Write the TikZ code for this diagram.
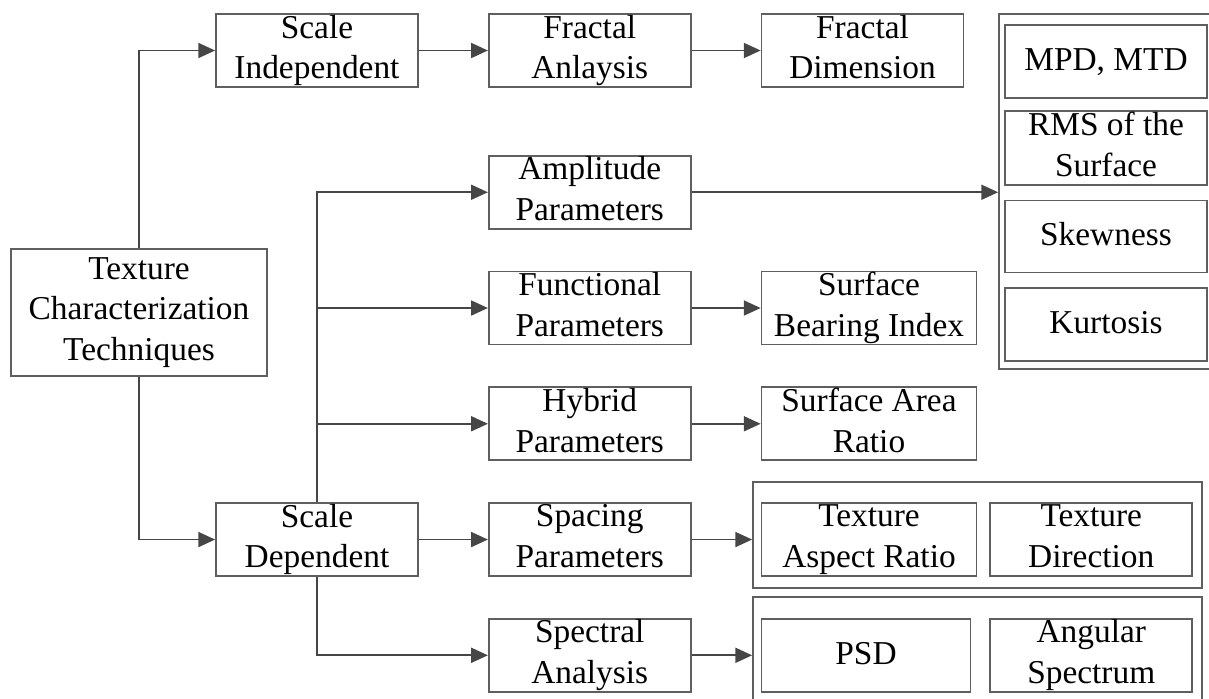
\documentclass[tikz,border=0pt]{standalone}
\usepackage{fontspec}
\setmainfont{Liberation Serif}
\usetikzlibrary{arrows.meta,positioning}
\definecolor{boxline}{RGB}{95,95,95}
\definecolor{arrline}{RGB}{70,70,70}

\begin{document}
\begin{tikzpicture}[
  font=\fontsize{19}{23.2}\selectfont,
  >={Triangle[length=9.5pt,width=8.5pt]},
  box/.style ={draw=boxline,line width=1pt,rectangle,minimum width=4.04cm,
               minimum height=1.46cm,align=center,inner sep=0pt,
               execute at begin node={\rule{0pt}{14.1pt}},
               execute at end node={\rule[-4.1pt]{0pt}{4.1pt}}},
  wbox/.style={box,minimum width=4.3cm},
  group/.style={draw=boxline,line width=1pt,rectangle,inner sep=0pt},
  conn/.style={->,draw=arrline,line width=1pt},
]
\useasboundingbox (0,0) rectangle (24.18,-13.96);

%% =============================================
%% Root
%% =============================================
\node[box,minimum width=5.12cm,minimum height=2.54cm] (tex) at (2.78,-6.25)
  {Texture\\Characterization\\Techniques};

%% =============================================
%% Scale independent branch
%% =============================================
\node[box] (sind) at (6.34,-1.01) {Scale\\Independent};
\node[box,right=1.38cm of sind] (fana) {Fractal\\Anlaysis};
\node[box,right=1.38cm of fana] (fdim) {Fractal\\Dimension};

%% =============================================
%% Scale dependent branch
%% =============================================
\node[box,below=1.34cm of fana] (amp)  {Amplitude\\Parameters};
\node[box,below=0.82cm of amp]  (func) {Functional\\Parameters};
\node[box,below=0.82cm of func] (hyb)  {Hybrid\\Parameters};
\node[box,below=0.82cm of hyb]  (spac) {Spacing\\Parameters};
\node[box,below=0.82cm of spac] (spec) {Spectral\\Analysis};
\node[box] (sdep) at (sind |- spac) {Scale\\Dependent};

% Outputs
\node[wbox,right=1.38cm of func] (sbi) {Surface\\Bearing Index};
\node[wbox,right=1.38cm of hyb]  (sar) {Surface Area\\Ratio};
\node[wbox,right=1.38cm of spac] (tar) {Texture\\Aspect Ratio};
\node[box,right=0.24cm of tar]   (tdir) {Texture\\Direction};
\node[box,right=1.38cm of spec,minimum width=4.18cm] (psd) {PSD};
\node[box] (ang) at (tdir |- spec) {Angular\\Spectrum};

%% =============================================
%% Amplitude parameter list
%% =============================================
\node[group,minimum width=4.46cm,minimum height=7.1cm] (ampgrp) at (22.21,-3.83) {};
\node[box] (mpd) at (22.12,-1.23) {MPD, MTD};
\node[box,below=0.22cm of mpd,minimum height=1.48cm] (rms) {RMS of the\\Surface};
\node[box,below=0.28cm of rms,minimum height=1.44cm] (skew) {Skewness};
\node[box,below=0.28cm of skew] (kurt) {Kurtosis};

% Groups round the spacing and spectral outputs
\node[group,minimum width=8.98cm,minimum height=2.12cm] (spacgrp) at (19.55,-10.7) {};
\node[group,minimum width=8.98cm,minimum height=2.1cm]  (specgrp) at (19.55,-12.99) {};

%% =============================================
%% Connections
%% =============================================
\draw[conn] (tex.north) |- (sind.west);
\draw[conn] (tex.south) |- (sdep.west);
\draw[conn] (sind.east) -- (fana.west);
\draw[conn] (fana.east) -- (fdim.west);

\draw[conn] (sdep.north) |- (amp.west);
\draw[conn] (sdep.north |- func.west) -- (func.west);
\draw[conn] (sdep.north |- hyb.west) -- (hyb.west);
\draw[conn] (sdep.east) -- (spac.west);
\draw[conn] (sdep.south) |- (spec.west);

\draw[conn] (amp.east)  -- (amp.east -| ampgrp.west);
\draw[conn] (func.east) -- (sbi.west);
\draw[conn] (hyb.east)  -- (sar.west);
\draw[conn] (spac.east) -- (spac.east -| spacgrp.west);
\draw[conn] (spec.east) -- (spec.east -| specgrp.west);

\end{tikzpicture}
\end{document}
